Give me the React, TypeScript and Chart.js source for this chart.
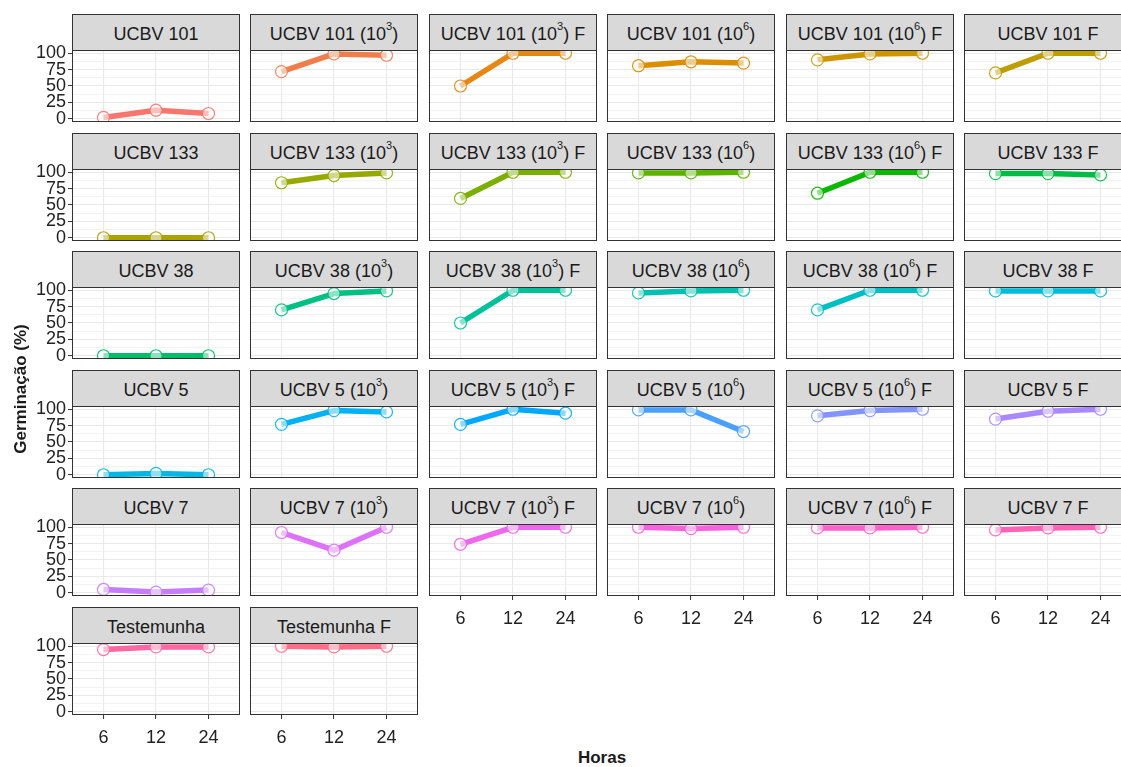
import React, { useEffect, useRef } from 'react';
import { Chart, registerables } from 'chart.js';

Chart.register(...registerables);
Chart.defaults.font.family = "'Liberation Sans', Arial, sans-serif";

// ---------- data ----------
const HORAS = ['6', '12', '24'];
const Y_TICKS = [0, 25, 50, 75, 100];

const PANEL_NAMES = [
  'UCBV 101', 'UCBV 101 (10^3)', 'UCBV 101 (10^3) F', 'UCBV 101 (10^6)', 'UCBV 101 (10^6) F', 'UCBV 101 F',
  'UCBV 133', 'UCBV 133 (10^3)', 'UCBV 133 (10^3) F', 'UCBV 133 (10^6)', 'UCBV 133 (10^6) F', 'UCBV 133 F',
  'UCBV 38', 'UCBV 38 (10^3)', 'UCBV 38 (10^3) F', 'UCBV 38 (10^6)', 'UCBV 38 (10^6) F', 'UCBV 38 F',
  'UCBV 5', 'UCBV 5 (10^3)', 'UCBV 5 (10^3) F', 'UCBV 5 (10^6)', 'UCBV 5 (10^6) F', 'UCBV 5 F',
  'UCBV 7', 'UCBV 7 (10^3)', 'UCBV 7 (10^3) F', 'UCBV 7 (10^6)', 'UCBV 7 (10^6) F', 'UCBV 7 F',
  'Testemunha', 'Testemunha F',
];

const UCBV_101 = [[2, 13, 8], [72, 99, 97], [50, 100, 100], [81, 87, 85], [90, 99, 100], [70, 100, 100]];
const UCBV_133 = [[0, 0, 0], [84, 95, 99], [60, 100, 100], [99, 99, 100], [68, 100, 100], [98, 98, 96]];
const UCBV_38 = [[0, 0, 0], [70, 95, 99], [50, 100, 100], [96, 99, 100], [70, 100, 100], [99, 99, 99]];
const UCBV_5 = [[0, 2, 0], [77, 98, 96], [77, 100, 94], [99, 99, 66], [90, 98, 100], [85, 97, 100]];
const UCBV_7 = [[5, 1, 4], [92, 65, 100], [74, 100, 100], [100, 98, 100], [99, 99, 100], [96, 99, 100]];
const TESTEMUNHA = [[95, 99, 99], [100, 99, 100]];

const VALUES = [...UCBV_101, ...UCBV_133, ...UCBV_38, ...UCBV_5, ...UCBV_7, ...TESTEMUNHA];

// ---------- style / layout ----------
const FONT = "'Liberation Sans', Arial, sans-serif";
const COL_LEFT = [72, 250, 429, 607, 786, 964];
const ROW_TOP = [14, 133, 251, 370, 488, 607];
const PANEL_W = 168;
const STRIP_H = 37;
const PLOT_H = 72;
const Y_AXIS_W = 60;
const X_AXIS_H = 38;
const PAD_T = 12;
const PAD_B = 12;

// ggplot2 default hue palette (HCL, c=100, l=65)
function hclHex(h: number, c: number, l: number): string {
  const hr = (h * Math.PI) / 180;
  const U = c * Math.cos(hr);
  const V = c * Math.sin(hr);
  const Xn = 95.047, Yn = 100, Zn = 108.883;
  const den = Xn + 15 * Yn + 3 * Zn;
  const un = (4 * Xn) / den;
  const vn = (9 * Yn) / den;
  const Y = l > 8 ? Yn * Math.pow((l + 16) / 116, 3) : (Yn * l) / 903.3;
  const u = U / (13 * l) + un;
  const v = V / (13 * l) + vn;
  const X = (9 * Y * u) / (4 * v);
  const Z = (Y * (12 - 3 * u - 20 * v)) / (4 * v);
  const x = X / 100, y = Y / 100, z = Z / 100;
  const lin = [
    3.240479 * x - 1.53715 * y - 0.498535 * z,
    -0.969256 * x + 1.875992 * y + 0.041556 * z,
    0.055648 * x - 0.204043 * y + 1.057311 * z,
  ];
  return (
    '#' +
    lin
      .map((t) => {
        let g = t <= 0.0031308 ? 12.92 * t : 1.055 * Math.pow(t, 1 / 2.4) - 0.055;
        g = Math.min(1, Math.max(0, g));
        return Math.round(g * 255).toString(16).padStart(2, '0');
      })
      .join('')
  );
}

const N = PANEL_NAMES.length;
const COLORS = PANEL_NAMES.map((_, i) => hclHex(15 + (i * 360) / N, 100, 65));

function hexA(hex: string, a: number) {
  const r = parseInt(hex.slice(1, 3), 16);
  const g = parseInt(hex.slice(3, 5), 16);
  const b = parseInt(hex.slice(5, 7), 16);
  return `rgba(${r},${g},${b},${a})`;
}

const borderPlugin = {
  id: 'panelBorder',
  afterDraw(chart: any) {
    const { ctx, chartArea } = chart;
    ctx.save();
    ctx.strokeStyle = '#333333';
    ctx.lineWidth = 1;
    ctx.strokeRect(
      chartArea.left + 0.5,
      chartArea.top + 0.5,
      chartArea.right - chartArea.left - 1,
      chartArea.bottom - chartArea.top - 1
    );
    ctx.restore();
  },
};

function StripText({ text }: { text: string }) {
  const parts = text.split(/\^(\d)/);
  return (
    <>
      {parts.map((p, i) =>
        i % 2 === 1 ? (
          <span key={i} style={{ fontSize: '0.62em', position: 'relative', top: '-0.6em' }}>
            {p}
          </span>
        ) : (
          <React.Fragment key={i}>{p}</React.Fragment>
        )
      )}
    </>
  );
}

function Panel({ index }: { index: number }) {
  const ref = useRef<HTMLCanvasElement>(null);
  const row = Math.floor(index / 6);
  const col = index % 6;
  const isFirst = col === 0;
  const isBottom = index + 6 >= N;
  const left = COL_LEFT[col];
  const top = ROW_TOP[row];
  const plotTop = top + STRIP_H - 1;
  const canvasLeft = left - (isFirst ? Y_AXIS_W : 0);
  const canvasTop = plotTop - PAD_T;
  const cw = PANEL_W + (isFirst ? Y_AXIS_W : 0);
  const ch = PAD_T + PLOT_H + (isBottom ? X_AXIS_H : PAD_B);

  useEffect(() => {
    if (!ref.current) return;
    const color = COLORS[index];
    const vals = VALUES[index];
    const minorY: number[] = [];
    for (let i = 0; i < Y_TICKS.length - 1; i++) minorY.push((Y_TICKS[i] + Y_TICKS[i + 1]) / 2);
    const isMajor = (v: number) => Y_TICKS.includes(v);
    const tickFont = { family: FONT, size: 18 };

    const chart = new Chart(ref.current, {
      type: 'line',
      data: {
        datasets: [
          {
            data: vals.map((v, i) => ({ x: i + 1, y: v })),
            borderColor: color,
            borderWidth: 5.5,
            pointRadius: 6,
            pointHoverRadius: 6,
            pointBorderWidth: 1.2,
            pointBorderColor: hexA(color, 0.9),
            pointBackgroundColor: 'rgba(255,255,255,0.55)',
            tension: 0,
            clip: 0,
            borderJoinStyle: 'round',
          } as any,
        ],
      },
      options: {
        animation: false,
        responsive: false,
        events: [],
        layout: {
          autoPadding: false,
          padding: { top: PAD_T, right: 0, left: 0, bottom: isBottom ? 0 : PAD_B },
        },
        plugins: { legend: { display: false }, tooltip: { enabled: false } },
        scales: {
          x: {
            type: 'linear',
            min: 0.4,
            max: 3.6,
            afterBuildTicks: (s: any) => {
              s.ticks = HORAS.map((_, i) => ({ value: i + 1 }));
            },
            afterFit: (s: any) => {
              s.height = isBottom ? X_AXIS_H : 0;
              s.paddingLeft = 0;
              s.paddingRight = 0;
            },
            ticks: {
              display: isBottom,
              autoSkip: false,
              maxRotation: 0,
              padding: 8,
              color: '#222222',
              font: tickFont,
              callback: (v: any) => HORAS[Math.round(Number(v)) - 1],
            },
            grid: {
              color: '#e9e9e9',
              lineWidth: 1.1,
              drawTicks: isBottom,
              tickLength: 4,
              tickColor: '#333333',
              tickWidth: 1,
            },
            border: { display: false },
          },
          y: {
            type: 'linear',
            min: -5,
            max: 105,
            afterBuildTicks: (s: any) => {
              s.ticks = [...Y_TICKS, ...minorY].sort((a, b) => a - b).map((v) => ({ value: v }));
            },
            afterFit: (s: any) => {
              s.width = isFirst ? Y_AXIS_W : 0;
              s.paddingTop = 0;
              s.paddingBottom = 0;
            },
            ticks: {
              display: isFirst,
              autoSkip: false,
              padding: 2,
              color: '#222222',
              font: tickFont,
              callback: (v: any) => (isMajor(Number(v)) ? String(v) : ''),
            },
            grid: {
              color: (c: any) => (c.tick && isMajor(c.tick.value) ? '#e9e9e9' : '#f0f0f0'),
              lineWidth: (c: any) => (c.tick && isMajor(c.tick.value) ? 1.1 : 0.8),
              drawTicks: isFirst,
              tickLength: 4,
              tickColor: (c: any) => (c.tick && isMajor(c.tick.value) ? '#333333' : 'rgba(0,0,0,0)'),
              tickWidth: 1,
            },
            border: { display: false },
          },
        },
      } as any,
      plugins: [borderPlugin],
    });
    return () => chart.destroy();
  }, [index]);

  return (
    <>
      <div
        style={{
          position: 'absolute',
          left,
          top,
          width: PANEL_W,
          height: STRIP_H,
          boxSizing: 'border-box',
          border: '1px solid #333333',
          background: '#d9d9d9',
          display: 'flex',
          alignItems: 'center',
          justifyContent: 'center',
          fontFamily: FONT,
          fontSize: 18,
          color: '#1a1a1a',
          whiteSpace: 'nowrap',
          paddingTop: 2,
          lineHeight: 1,
        }}
      >
        <StripText text={PANEL_NAMES[index]} />
      </div>
      <canvas
        ref={ref}
        width={cw}
        height={ch}
        style={{ position: 'absolute', left: canvasLeft, top: canvasTop, width: cw, height: ch }}
      />
    </>
  );
}

export default function App() {
  return (
    <div
      style={{
        position: 'absolute',
        left: 0,
        top: 0,
        width: 1121,
        height: 767,
        overflow: 'hidden',
        background: '#ffffff',
      }}
    >
      {PANEL_NAMES.map((_, i) => (
        <Panel key={i} index={i} />
      ))}
      <div
        style={{
          position: 'absolute',
          left: 21 - 110,
          top: 389 - 11,
          width: 220,
          height: 22,
          lineHeight: '22px',
          textAlign: 'center',
          transform: 'rotate(-90deg)',
          fontFamily: FONT,
          fontWeight: 'bold',
          fontSize: 17,
          color: '#1a1a1a',
          whiteSpace: 'nowrap',
        }}
      >
        Germinação (%)
      </div>
      <div
        style={{
          position: 'absolute',
          left: 602 - 60,
          top: 758 - 11,
          width: 120,
          height: 22,
          lineHeight: '22px',
          textAlign: 'center',
          fontFamily: FONT,
          fontWeight: 'bold',
          fontSize: 17,
          color: '#1a1a1a',
          whiteSpace: 'nowrap',
        }}
      >
        Horas
      </div>
    </div>
  );
}
